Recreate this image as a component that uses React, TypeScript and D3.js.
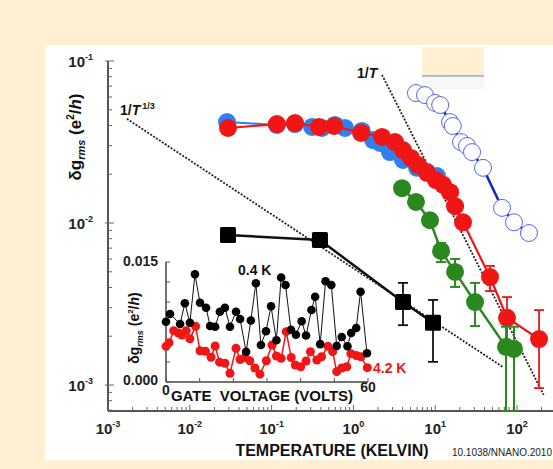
import { useEffect, useRef } from "react"
import * as d3 from "d3"

// main panel: temperature (K) vs rms conductance fluctuation (e^2/h)
const blueT = [0.0285, 0.116, 0.193, 0.312, 0.413, 0.596, 0.789, 1.27, 1.74, 2.12, 2.8, 4.04, 6.0, 7.94, 10.5]
const blueG = [0.042, 0.0403, 0.0408, 0.0392, 0.0386, 0.0403, 0.0386, 0.037, 0.0325, 0.0312, 0.0274, 0.0245, 0.0219, 0.0207, 0.0195]

const redT = [0.0293, 0.116, 0.193, 0.379, 0.579, 1.24, 2.24, 3.23, 4.04, 5.06, 6.17, 7.94, 10.2, 12.5, 15.2, 17.5, 21.9, 46.8, 75.5, 186]
const redG = [0.0386, 0.0408, 0.0414, 0.0392, 0.0397, 0.036, 0.034, 0.0316, 0.0282, 0.0252, 0.0228, 0.0204, 0.0184, 0.0172, 0.0155, 0.0127, 0.0101, 0.00464, 0.0026, 0.00192]
const redLo = [null, null, null, null, null, null, null, null, null, null, null, null, null, null, null, null, null, 0.0038, 0.0017, 0.000957]
const redHi = [null, null, null, null, null, null, null, null, null, null, null, null, null, null, null, null, null, 0.00543, 0.00349, 0.0029]

const greenT = [3.93, 5.82, 8.63, 11.8, 17.5, 30.7, 73.4, 91.9]
const greenG = [0.0164, 0.0135, 0.0104, 0.00672, 0.00499, 0.00325, 0.00172, 0.00167]
const greenLo = [null, null, null, 0.00574, 0.00403, 0.00231, 0.0006, 0.0006]
const greenHi = [null, null, null, 0.00753, 0.006, 0.00427, 0.00229, 0.00229]

const blackT = [0.0293, 0.39, 4.04, 9.4]
const blackG = [0.00843, 0.00785, 0.00325, 0.00242]
const blackLo = [null, null, 0.00234, 0.00139]
const blackHi = [null, null, 0.00427, 0.00335]

const openT = [5.82, 7.5, 9.95, 11.5, 15.2, 16.4, 20.7, 24.5, 28.2, 38.4, 65.6, 91.9, 140]
const openG = [0.0634, 0.0616, 0.0551, 0.0535, 0.042, 0.0397, 0.0316, 0.0299, 0.0274, 0.0219, 0.0124, 0.0101, 0.00867]

// guide lines: A * T^(-1/3) and B / T
const cubeRootT = [0.0017, 67.5]
const cubeRootA = 0.00525
const invT = [2.24, 212]
const invB = 0.184

const xExponents = [-3, -2, -1, 0, 1, 2]
const yExponents = [-1, -2, -3]

// inset: gate voltage (V) vs δg_rms in units of 1e-3 e^2/h
const gate04K = [0, 1.2, 4.2, 5.6, 7.1, 8.6, 10.1, 11.9, 13.1, 14.6, 16.0, 17.5, 19.0, 20.8, 22.0, 23.8, 25.2, 26.7, 28.2, 29.7, 31.2, 32.8, 34.2, 35.5, 37.1, 38.6, 40.3, 41.6, 43.2, 44.3, 45.8, 47.4, 49.1, 50.7, 52.2, 53.9, 55.0, 56.5, 57.8, 59.7]
const dg04K = [7.54, 8.5, 7.25, 9.84, 7.41, 13.46, 9.91, 9.29, 7.0, 6.91, 8.79, 9.29, 6.91, 8.79, 7.88, 3.79, 7.69, 12.34, 4.63, 6.34, 9.46, 5.21, 13.06, 12.13, 6.54, 5.91, 7.59, 5.81, 9.0, 10.66, 4.73, 12.6, 12.13, 4.5, 5.63, 4.46, 6.13, 6.75, 11.29, 3.59]
const gate42K = [0, 0.9, 2.3, 3.7, 4.7, 6.0, 7.1, 8.8, 10.1, 11.7, 13.4, 14.6, 15.9, 17.5, 19.0, 20.8, 22.0, 23.5, 24.9, 26.4, 27.9, 29.8, 31.5, 32.8, 34.2, 35.7, 37.2, 38.4, 40.0, 41.6, 42.9, 44.8, 46.2, 48.1, 49.5, 50.7, 52.2, 53.7, 54.9, 56.5, 57.9, 59.8]
const dg42K = [4.46, 4.91, 6.41, 6.13, 5.88, 6.41, 5.4, 6.96, 3.9, 3.84, 3.09, 4.5, 2.48, 2.34, 1.09, 4.21, 2.81, 3.06, 2.65, 1.75, 0.98, 2.65, 4.63, 3.25, 2.96, 6.29, 3.06, 2.13, 1.91, 2.63, 3.79, 2.75, 3.16, 4.46, 3.79, 1.29, 1.75, 1.91, 3.54, 3.31, 3.15, 1.79]

const FONT = "'Liberation Sans', Arial, sans-serif"
const BLUE = "#2f80ee"
const RED = "#f01616"
const GREEN = "#2a881e"

export default function App() {
  const svgRef = useRef<SVGSVGElement>(null)

  useEffect(() => {
    if (!svgRef.current) return
    const svg = d3.select(svgRef.current)
    svg.selectAll("*").remove()
    svg.attr("font-family", FONT)

    // background + white panel
    svg.append("rect").attr("width", 553).attr("height", 469).attr("fill", "#fff0d3")
    svg.append("rect").attr("x", 45).attr("y", 45).attr("width", 508).attr("height", 415).attr("fill", "#fff")
    svg.append("rect").attr("x", 422).attr("y", 47).attr("width", 62).attr("height", 29).attr("fill", "#fff0d3")
    svg.append("rect").attr("x", 422).attr("y", 77).attr("width", 62).attr("height", 12).attr("fill", "#f7f7f7")
    svg.append("line").attr("x1", 422).attr("x2", 484).attr("y1", 76).attr("y2", 76)
      .attr("stroke", "#6f8290").attr("stroke-width", 1.2)

    const x = d3.scaleLog().domain([1e-3, 1e3]).range([108, 108 + 6 * 81.8])
    const y = d3.scaleLog().domain([1e-1, 1e-3]).range([61, 385])
    const axisX = 108
    const axisY = 411
    const xEnd = 553
    const yBottom = y.invert(axisY)

    // axis lines
    svg.append("line").attr("x1", axisX).attr("x2", axisX).attr("y1", y(0.1)).attr("y2", axisY)
      .attr("stroke", "#555").attr("stroke-width", 2)
    svg.append("line").attr("x1", axisX).attr("x2", xEnd).attr("y1", axisY).attr("y2", axisY)
      .attr("stroke", "#555").attr("stroke-width", 2)

    // log ticks
    const yTicks: number[] = [0.1]
    for (let e = -4; e <= -2; e++) for (let k = 1; k <= 9; k++) {
      const v = k * Math.pow(10, e)
      if (y(v) <= axisY) yTicks.push(v)
    }
    yTicks.forEach((v) => {
      const major = Math.abs(Math.log10(v) - Math.round(Math.log10(v))) < 1e-6
      svg.append("line").attr("x1", axisX - (major ? 3 : 0)).attr("x2", axisX + (major ? 6 : 4))
        .attr("y1", y(v)).attr("y2", y(v)).attr("stroke", "#666").attr("stroke-width", 1)
    })
    const xTicks: number[] = []
    for (let e = -3; e <= 2; e++) for (let k = 1; k <= 9; k++) {
      const v = k * Math.pow(10, e)
      if (x(v) <= xEnd) xTicks.push(v)
    }
    xTicks.forEach((v) => {
      const major = Math.abs(Math.log10(v) - Math.round(Math.log10(v))) < 1e-6
      svg.append("line").attr("x1", x(v)).attr("x2", x(v))
        .attr("y1", axisY).attr("y2", axisY - (major ? 6 : 4)).attr("stroke", "#666").attr("stroke-width", 1)
    })

    // tick labels
    yExponents.forEach((e) => {
      const t = svg.append("text").attr("x", 93).attr("y", y(Math.pow(10, e)) + 6)
        .attr("text-anchor", "end").attr("font-size", 15).attr("font-weight", "bold").attr("fill", "#222")
      t.append("tspan").text("10")
      t.append("tspan").attr("font-size", 9).attr("dy", -7).text(String(e))
    })
    xExponents.forEach((e) => {
      const t = svg.append("text").attr("x", x(Math.pow(10, e))).attr("y", 434)
        .attr("text-anchor", "middle").attr("font-size", 15).attr("font-weight", "bold").attr("fill", "#222")
      t.append("tspan").text("10")
      t.append("tspan").attr("font-size", 9).attr("dy", -7).text(String(e))
    })

    svg.append("text").attr("x", 332).attr("y", 456).attr("text-anchor", "middle")
      .attr("font-size", 16).attr("font-weight", "bold").attr("fill", "#111").text("TEMPERATURE (KELVIN)")
    svg.append("text").attr("x", 552).attr("y", 456).attr("text-anchor", "end")
      .attr("font-size", 10).attr("fill", "#222").text("10.1038/NNANO.2010")

    const yl = svg.append("text").attr("transform", "translate(81,137) rotate(-90)")
      .attr("text-anchor", "middle").attr("font-size", 17).attr("font-weight", "bold").attr("fill", "#111")
    yl.append("tspan").text("δg")
    yl.append("tspan").attr("font-size", 11).attr("font-style", "italic").attr("dy", 4).text("rms")
    yl.append("tspan").attr("dy", -4).text(" (e")
    yl.append("tspan").attr("font-size", 10).attr("dy", -7).text("2")
    yl.append("tspan").attr("dy", 7).text("/")
    yl.append("tspan").attr("font-style", "italic").text("h")
    yl.append("tspan").text(")")

    // guide lines
    const guide = d3.line<number>().x((t) => x(t))
    svg.append("path")
      .attr("d", guide.y((t) => y(cubeRootA * Math.pow(t, -1 / 3)))(cubeRootT))
      .attr("fill", "none").attr("stroke", "#222").attr("stroke-width", 1.8).attr("stroke-dasharray", "2,1.5")
    svg.append("path")
      .attr("d", guide.y((t) => y(invB / t))(invT))
      .attr("fill", "none").attr("stroke", "#222").attr("stroke-width", 1.8).attr("stroke-dasharray", "2,1.5")

    const a1 = svg.append("text").attr("x", 120).attr("y", 115).attr("font-size", 14).attr("font-weight", "bold").attr("fill", "#111")
    a1.append("tspan").text("1/")
    a1.append("tspan").attr("font-style", "italic").text("T")
    a1.append("tspan").attr("font-size", 9).attr("dx", 2).attr("dy", -6).text("1/3")
    const a2 = svg.append("text").attr("x", 357).attr("y", 78).attr("font-size", 14).attr("font-weight", "bold").attr("fill", "#111")
    a2.append("tspan").text("1/")
    a2.append("tspan").attr("font-style", "italic").text("T")

    const clampY = (v: number) => y(Math.max(v, yBottom))

    const drawErr = (ts: number[], lo: (number | null)[], hi: (number | null)[], color: string, w: number) => {
      ts.forEach((t, i) => {
        const l = lo[i]
        const h = hi[i]
        if (l == null || h == null) return
        const cx = x(t)
        svg.append("line").attr("x1", cx).attr("x2", cx).attr("y1", y(h)).attr("y2", clampY(l))
          .attr("stroke", color).attr("stroke-width", w)
        ;[y(h), clampY(l)].forEach((yy) => {
          svg.append("line").attr("x1", cx - 5).attr("x2", cx + 5).attr("y1", yy).attr("y2", yy)
            .attr("stroke", color).attr("stroke-width", w)
        })
      })
    }

    const path = (ts: number[], gs: number[], color: string, w: number) => {
      svg.append("path")
        .attr("d", d3.line<number>().x((t) => x(t)).y((_, i) => y(gs[i]))(ts))
        .attr("fill", "none").attr("stroke", color).attr("stroke-width", w)
    }
    const dots = (ts: number[], gs: number[], color: string, r: number) => {
      svg.append("g").selectAll("circle").data(ts).enter().append("circle")
        .attr("cx", (t) => x(t)).attr("cy", (_, i) => y(gs[i])).attr("r", r).attr("fill", color)
    }

    // blue (filled)
    path(blueT, blueG, BLUE, 2)
    dots(blueT, blueG, BLUE, 9)

    // red
    drawErr(redT, redLo, redHi, RED, 1.8)
    path(redT, redG, RED, 2.2)
    dots(redT, redG, RED, 9)

    // green
    drawErr(greenT, greenLo, greenHi, GREEN, 2)
    path(greenT, greenG, GREEN, 2.5)
    dots(greenT, greenG, GREEN, 9)

    // black squares
    drawErr(blackT, blackLo, blackHi, "#111", 1.8)
    path(blackT, blackG, "#111", 2.5)
    svg.append("g").selectAll("rect").data(blackT).enter().append("rect")
      .attr("x", (t) => x(t) - 8).attr("y", (_, i) => y(blackG[i]) - 8)
      .attr("width", 16).attr("height", 16).attr("rx", 1.5).attr("fill", "#000")

    // blue open circles
    path(openT, openG, "#1428c8", 2.5)
    svg.append("g").selectAll("circle").data(openT).enter().append("circle")
      .attr("cx", (t) => x(t)).attr("cy", (_, i) => y(openG[i])).attr("r", 8.5)
      .attr("fill", "#fff").attr("stroke", "#5565f2").attr("stroke-width", 1)

    // ---------------- inset ----------------
    const ix = d3.scaleLinear().domain([0, 60]).range([166, 368])
    const iy = d3.scaleLinear().domain([0, 15]).range([382, 262])

    svg.append("line").attr("x1", ix(0)).attr("x2", ix(0)).attr("y1", iy(15)).attr("y2", iy(0))
      .attr("stroke", "#444").attr("stroke-width", 1.5)
    svg.append("line").attr("x1", ix(0)).attr("x2", ix(60)).attr("y1", iy(0)).attr("y2", iy(0))
      .attr("stroke", "#444").attr("stroke-width", 1.5)
    d3.range(0, 15.01, 2.5).forEach((v) => {
      svg.append("line").attr("x1", ix(0)).attr("x2", ix(0) + 4).attr("y1", iy(v)).attr("y2", iy(v))
        .attr("stroke", "#555").attr("stroke-width", 1)
    })
    d3.range(0, 60.01, 10).forEach((v) => {
      svg.append("line").attr("x1", ix(v)).attr("x2", ix(v)).attr("y1", iy(0)).attr("y2", iy(0) - 4)
        .attr("stroke", "#555").attr("stroke-width", 1)
    })

    svg.append("text").attr("x", 158).attr("y", iy(15) + 4).attr("text-anchor", "end")
      .attr("font-size", 14).attr("font-weight", "bold").attr("fill", "#222").text("0.015")
    svg.append("text").attr("x", 158).attr("y", iy(0) + 3).attr("text-anchor", "end")
      .attr("font-size", 14).attr("font-weight", "bold").attr("fill", "#222").text("0.000")
    svg.append("text").attr("x", ix(0)).attr("y", 395).attr("text-anchor", "middle")
      .attr("font-size", 14).attr("font-weight", "bold").attr("fill", "#222").text("0")
    svg.append("text").attr("x", ix(60)).attr("y", 392).attr("text-anchor", "middle")
      .attr("font-size", 14).attr("font-weight", "bold").attr("fill", "#222").text("60")
    svg.append("text").attr("x", 262).attr("y", 401).attr("text-anchor", "middle").style("white-space", "pre")
      .attr("font-size", 15).attr("font-weight", "bold").attr("fill", "#111").text("GATE  VOLTAGE (VOLTS)")

    const il = svg.append("text").attr("transform", "translate(139,328) rotate(-90)")
      .attr("text-anchor", "middle").attr("font-size", 14).attr("font-weight", "bold").attr("fill", "#111")
    il.append("tspan").text("δg")
    il.append("tspan").attr("font-size", 9).attr("font-style", "italic").attr("dy", 4).text("rms")
    il.append("tspan").attr("dy", -4).text(" (e")
    il.append("tspan").attr("font-size", 8).attr("dy", -6).text("2")
    il.append("tspan").attr("dy", 6).text("/")
    il.append("tspan").attr("font-style", "italic").text("h")
    il.append("tspan").text(")")

    // 4.2 K (red) under 0.4 K (black)
    svg.append("path")
      .attr("d", d3.line<number>().x((v) => ix(v)).y((_, i) => iy(dg42K[i]))(gate42K))
      .attr("fill", "none").attr("stroke", RED).attr("stroke-width", 1.5)
    svg.append("g").selectAll("circle").data(gate42K).enter().append("circle")
      .attr("cx", (v) => ix(v)).attr("cy", (_, i) => iy(dg42K[i])).attr("r", 4.5).attr("fill", RED)

    svg.append("path")
      .attr("d", d3.line<number>().x((v) => ix(v)).y((_, i) => iy(dg04K[i]))(gate04K))
      .attr("fill", "none").attr("stroke", "#111").attr("stroke-width", 1)
    svg.append("g").selectAll("circle").data(gate04K).enter().append("circle")
      .attr("cx", (v) => ix(v)).attr("cy", (_, i) => iy(dg04K[i])).attr("r", 4.3).attr("fill", "#000")

    svg.append("text").attr("x", 238).attr("y", 275).attr("font-size", 14).attr("font-weight", "bold")
      .attr("fill", "#111").text("0.4 K")
    svg.append("text").attr("x", 373).attr("y", 373).attr("font-size", 14).attr("font-weight", "bold")
      .attr("fill", RED).text("4.2 K")
  }, [])

  return (
    <div style={{ position: "absolute", left: 0, top: 0 }}>
      <svg ref={svgRef} width={553} height={469}></svg>
    </div>
  )
}
